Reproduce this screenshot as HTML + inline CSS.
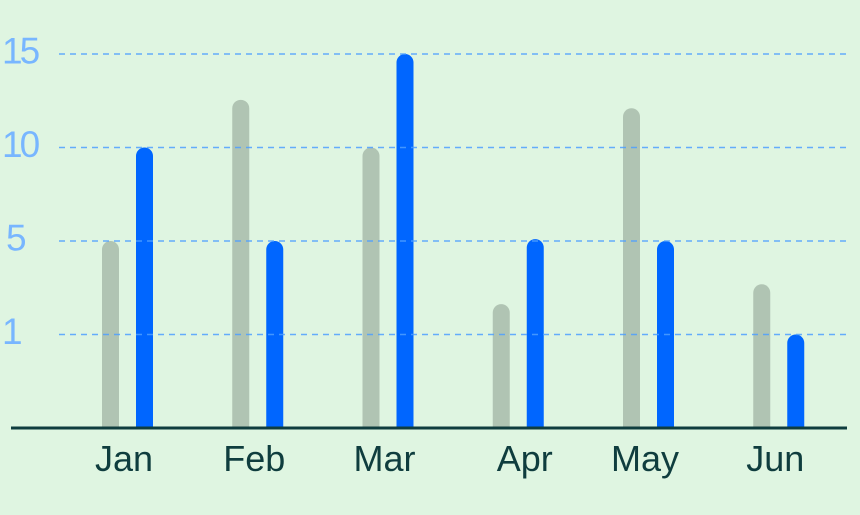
<!DOCTYPE html>
<html>
<head>
<meta charset="utf-8">
<style>
html,body{margin:0;padding:0;width:860px;height:515px;overflow:hidden;background:#dff5e1}
svg{display:block}
text{font-family:"Liberation Sans",sans-serif}
</style>
</head>
<body>
<svg id="chart" width="860" height="515" viewBox="0 0 860 515" xmlns="http://www.w3.org/2000/svg">
<rect width="860" height="515" fill="#dff5e1"/>
</svg>
<script>
const categories = ["Jan", "Feb", "Mar", "Apr", "May", "Jun"];
const seriesGray = [5, 12.55, 10, 2.3, 12.1, 3.15];
const seriesBlue = [10, 5, 15, 5.1, 5, 1];
const tickValues = [1, 5, 10, 15];

const svg = document.getElementById('chart');
const NS = 'http://www.w3.org/2000/svg';
const baseY = 428, bandStep = 93.5;
const groupStart = 102, groupStep = 130.25, barW = 17, barGap = 17;

// The value axis is ordinal-spaced: each tick sits one equal band apart.
function yScale(v) {
  const stops = [0].concat(tickValues);
  if (v >= stops[stops.length - 1]) {
    const n = stops.length - 1;
    return baseY - bandStep * (n + (v - stops[n]) / (stops[n] - stops[n - 1]));
  }
  for (let i = 0; i < stops.length - 1; i++) {
    if (v <= stops[i + 1]) {
      return baseY - bandStep * (i + (v - stops[i]) / (stops[i + 1] - stops[i]));
    }
  }
  return baseY;
}
function xScale(i) { return groupStart + groupStep * i; }
function labelX(i) { return xScale(i) + 22 + (categories[i] === 'Apr' ? 10 : 0); }

function make(tag, attrs) {
  const el = document.createElementNS(NS, tag);
  for (const k in attrs) el.setAttribute(k, attrs[k]);
  svg.appendChild(el);
  return el;
}
function barPath(x, top, w) {
  const r = w / 2;
  const b = baseY;
  return 'M' + x + ' ' + b + 'V' + (top + r) + 'A' + r + ' ' + r + ' 0 0 1 ' + (x + w) + ' ' + (top + r) + 'V' + b + 'Z';
}

categories.forEach(function (c, i) {
  const g = make('path', { d: barPath(xScale(i), yScale(seriesGray[i]), barW), fill: '#b0c4b3' });
  
  
  const b = make('path', { d: barPath(xScale(i) + barW + barGap, yScale(seriesBlue[i]), barW), fill: '#0066ff' });
  
  
  const t = make('text', { x: labelX(i), y: 471, 'text-anchor': 'middle', 'font-size': 36, fill: '#0f3d3e' });
  t.textContent = c;
  
  
});

tickValues.forEach(function (v) {
  const y = yScale(v);
  const line = make('line', { x1: 59, x2: 848, y1: y, y2: y, stroke: '#4d9fff', 'stroke-opacity': 0.85, 'stroke-width': 1.6, 'stroke-dasharray': '6 5' });
  
  
  const t = make('text', { x: v === 5 ? 6 : 2, y: y + 9.5, 'letter-spacing': -3, 'font-size': 37, fill: '#78b6ff' });
  t.textContent = v;
  
  
});

const axis = make('line', { x1: 11, x2: 847, y1: baseY, y2: baseY, stroke: '#0f3d3e', 'stroke-width': 3 });


</script>
</body>
</html>
